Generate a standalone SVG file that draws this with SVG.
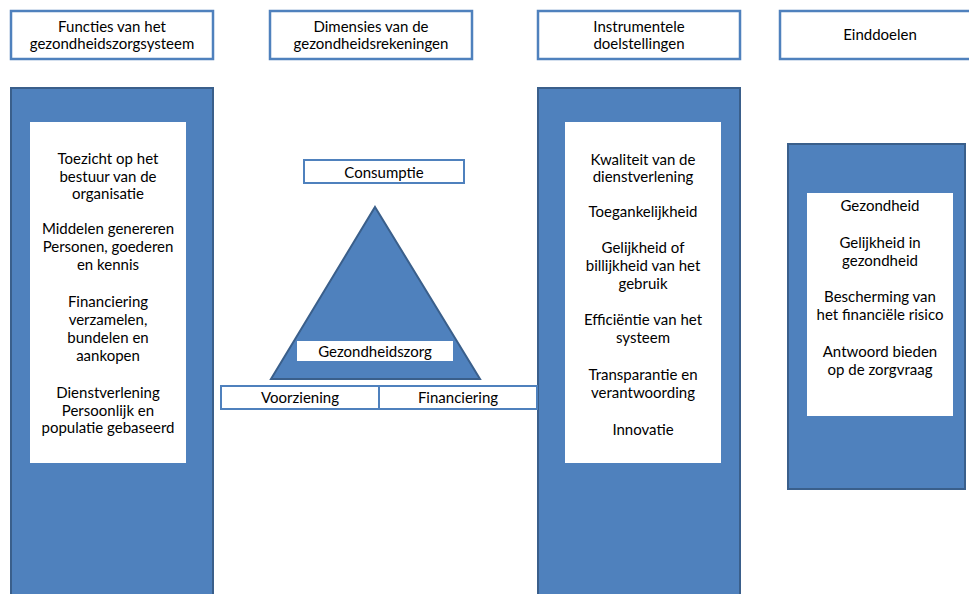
<svg xmlns="http://www.w3.org/2000/svg" width="969" height="594" viewBox="0 0 969 594">
<style>
.hdr{fill:#fff;stroke:#4F81BD;stroke-width:2.5}
.panel{fill:#4F81BD;stroke:#3A5F8B;stroke-width:2}
.inner{fill:#fff;stroke:none}
.lbl{fill:#fff;stroke:#4F81BD;stroke-width:2}
text{font-family:Lato,"Open Sans","Liberation Sans",sans-serif;font-size:15px;fill:#000;text-anchor:middle}
</style>
<rect width="969" height="594" fill="#fff"/>
<g id="hdr-functies">
<rect class="hdr" x="11" y="11" width="202" height="48"/>
<text x="112" y="32">Functies van het</text>
<text x="112" y="49">gezondheidszorgsysteem</text>
</g>
<g id="hdr-dimensies">
<rect class="hdr" x="270" y="11" width="202" height="48"/>
<text x="371" y="32">Dimensies van de</text>
<text x="371" y="49">gezondheidsrekeningen</text>
</g>
<g id="hdr-instrumentele">
<rect class="hdr" x="538" y="11" width="202" height="48"/>
<text x="639" y="32">Instrumentele</text>
<text x="639" y="49">doelstellingen</text>
</g>
<g id="hdr-einddoelen">
<rect class="hdr" x="780" y="11" width="202" height="48"/>
<text x="880" y="40">Einddoelen</text>
</g>
<g id="panel-functies">
<rect class="panel" x="11" y="88" width="202" height="520"/>
<rect class="inner" x="30" y="122" width="156" height="341"/>
<text x="108" y="164">Toezicht op het</text>
<text x="108" y="182">bestuur van de</text>
<text x="108" y="199">organisatie</text>
<text x="108" y="234">Middelen genereren</text>
<text x="108" y="252">Personen, goederen</text>
<text x="108" y="270">en kennis</text>
<text x="108" y="307">Financiering</text>
<text x="108" y="325">verzamelen,</text>
<text x="108" y="343">bundelen en</text>
<text x="108" y="361">aankopen</text>
<text x="108" y="398">Dienstverlening</text>
<text x="108" y="416">Persoonlijk en</text>
<text x="108" y="433">populatie gebaseerd</text>
</g>
<g id="panel-instrumentele">
<rect class="panel" x="538" y="88" width="202" height="520"/>
<rect class="inner" x="565" y="122" width="156" height="341"/>
<text x="643" y="165">Kwaliteit van de</text>
<text x="643" y="182">dienstverlening</text>
<text x="643" y="217">Toegankelijkheid</text>
<text x="643" y="253">Gelijkheid of</text>
<text x="643" y="271">billijkheid van het</text>
<text x="643" y="289">gebruik</text>
<text x="643" y="325">Efficiëntie van het</text>
<text x="643" y="343">systeem</text>
<text x="643" y="380">Transparantie en</text>
<text x="643" y="398">verantwoording</text>
<text x="643" y="435">Innovatie</text>
</g>
<g id="panel-einddoelen">
<rect class="panel" x="788" y="144" width="177" height="345"/>
<rect class="inner" x="807" y="193" width="146" height="223"/>
<text x="880" y="211">Gezondheid</text>
<text x="880" y="248">Gelijkheid in</text>
<text x="880" y="266">gezondheid</text>
<text x="880" y="302">Bescherming van</text>
<text x="880" y="320">het financiële risico</text>
<text x="880" y="357">Antwoord bieden</text>
<text x="880" y="375">op de zorgvraag</text>
</g>
<g id="triangle">
<polygon points="375,207 480,379 271,379" fill="#4F81BD" stroke="#3A5F8B" stroke-width="2"/>
</g>
<g id="consumptie">
<rect class="lbl" x="304" y="160" width="160" height="23"/>
<text x="384" y="178">Consumptie</text>
</g>
<g id="gezondheidszorg">
<rect class="inner" x="297" y="341" width="156" height="20"/>
<text x="375" y="357">Gezondheidszorg</text>
</g>
<g id="voorziening">
<rect class="lbl" x="221" y="386" width="158" height="23"/>
<text x="300" y="403">Voorziening</text>
</g>
<g id="financiering">
<rect class="lbl" x="379" y="386" width="158" height="23"/>
<text x="458" y="403">Financiering</text>
</g>
<g id="connectors"></g>
</svg>
